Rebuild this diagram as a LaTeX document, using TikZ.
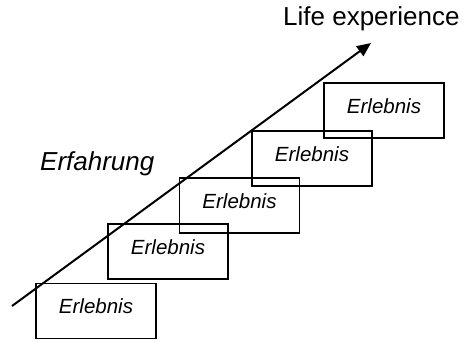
\documentclass[tikz,border=0pt]{standalone}
\usepackage{fontspec}
\setmainfont{Liberation Sans}
\usetikzlibrary{arrows.meta}
\begin{document}
\begin{tikzpicture}[x=1pt,y=-1pt,
  stepbox/.style={draw,line width=1.8pt,minimum width=120pt,minimum height=55pt,
    inner sep=0pt,text depth=9pt,font=\fontsize{20.5}{24}\selectfont\itshape},
  bigtext/.style={font=\fontsize{26}{30}\selectfont,inner sep=0pt,anchor=base west}]
\useasboundingbox (0,0) rectangle (463,341);
% staircase of experiences
\node[stepbox] (e1) at (96,311) {Erlebnis};
\node[stepbox] (e2) at (168,251.5) {Erlebnis};
\node[stepbox] (e3) at (239.5,205.5) {Erlebnis};
\node[stepbox] (e4) at (312,158.5) {Erlebnis};
\node[stepbox] (e5) at (384,110.5) {Erlebnis};
% growth arrow
\coordinate (start) at (12,306);
\coordinate (tip) at (371,43);
\draw[line width=2pt,-{Triangle[length=14pt,width=12pt]}] (start) -- (tip);
% labels
\node[bigtext] (life) at (283,25) {Life experience};
\node[bigtext,font=\fontsize{26}{30}\selectfont\itshape] (erf) at (40,170) {Erfahrung};
\end{tikzpicture}
\end{document}
